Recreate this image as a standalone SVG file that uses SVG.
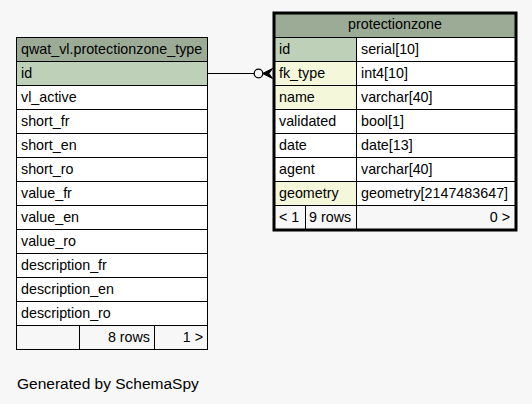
<svg xmlns="http://www.w3.org/2000/svg" width="532" height="404" viewBox="0 0 532 404">
<style>
text{font-family:"Liberation Sans",Arial,sans-serif;font-size:14.3px;fill:#000}
.c{fill:#fff;stroke:#000;stroke-width:1}
.h{fill:#9bab96;stroke:#000;stroke-width:1}
.pk{fill:#bed1b8;stroke:#000;stroke-width:1}
.fk{fill:#f4f7da;stroke:#000;stroke-width:1}
.ft{fill:#f7f7f7;stroke:#000;stroke-width:1}
.r{text-anchor:end}
.m{text-anchor:middle}
.g{font-size:15.5px}
</style>
<rect width="532" height="404" fill="#f7f7f7"/>
<g id="qwat_vl.protectionzone_type">
<rect class="h" x="16.5" y="37.5" width="191" height="24"/>
<text x="21" y="54">qwat_vl.protectionzone_type</text>
<rect class="pk" x="16.5" y="61.5" width="191" height="24"/>
<text x="21" y="78">id</text>
<rect class="c" x="16.5" y="85.5" width="191" height="24"/>
<text x="21" y="102">vl_active</text>
<rect class="c" x="16.5" y="109.5" width="191" height="24"/>
<text x="21" y="126">short_fr</text>
<rect class="c" x="16.5" y="133.5" width="191" height="24"/>
<text x="21" y="150">short_en</text>
<rect class="c" x="16.5" y="157.5" width="191" height="24"/>
<text x="21" y="174">short_ro</text>
<rect class="c" x="16.5" y="181.5" width="191" height="24"/>
<text x="21" y="198">value_fr</text>
<rect class="c" x="16.5" y="205.5" width="191" height="24"/>
<text x="21" y="222">value_en</text>
<rect class="c" x="16.5" y="229.5" width="191" height="24"/>
<text x="21" y="246">value_ro</text>
<rect class="c" x="16.5" y="253.5" width="191" height="24"/>
<text x="21" y="270">description_fr</text>
<rect class="c" x="16.5" y="277.5" width="191" height="24"/>
<text x="21" y="294">description_en</text>
<rect class="c" x="16.5" y="301.5" width="191" height="24"/>
<text x="21" y="318">description_ro</text>
<rect class="ft" x="16.5" y="325.5" width="63" height="24"/>
<rect class="ft" x="79.5" y="325.5" width="75" height="24"/>
<text class="r" x="150" y="342">8 rows</text>
<rect class="ft" x="154.5" y="325.5" width="53" height="24"/>
<text class="r" x="203" y="342">1 &gt;</text>
</g>
<g id="protectionzone">
<rect class="h" x="274.5" y="13.5" width="241" height="24"/>
<text class="m" x="395" y="29">protectionzone</text>
<rect class="pk" x="274.5" y="37.5" width="82" height="24"/>
<text x="279" y="54">id</text>
<rect class="c" x="356.5" y="37.5" width="159" height="24"/>
<text x="361" y="54">serial[10]</text>
<rect class="fk" x="274.5" y="61.5" width="82" height="24"/>
<text x="279" y="78">fk_type</text>
<rect class="c" x="356.5" y="61.5" width="159" height="24"/>
<text x="361" y="78">int4[10]</text>
<rect class="fk" x="274.5" y="85.5" width="82" height="24"/>
<text x="279" y="102">name</text>
<rect class="c" x="356.5" y="85.5" width="159" height="24"/>
<text x="361" y="102">varchar[40]</text>
<rect class="c" x="274.5" y="109.5" width="82" height="24"/>
<text x="279" y="126">validated</text>
<rect class="c" x="356.5" y="109.5" width="159" height="24"/>
<text x="361" y="126">bool[1]</text>
<rect class="c" x="274.5" y="133.5" width="82" height="24"/>
<text x="279" y="150">date</text>
<rect class="c" x="356.5" y="133.5" width="159" height="24"/>
<text x="361" y="150">date[13]</text>
<rect class="c" x="274.5" y="157.5" width="82" height="24"/>
<text x="279" y="174">agent</text>
<rect class="c" x="356.5" y="157.5" width="159" height="24"/>
<text x="361" y="174">varchar[40]</text>
<rect class="fk" x="274.5" y="181.5" width="82" height="24"/>
<text x="279" y="198">geometry</text>
<rect class="c" x="356.5" y="181.5" width="159" height="24"/>
<text x="361" y="198">geometry[2147483647]</text>
<rect class="ft" x="274.5" y="205.5" width="31" height="24"/>
<text x="279" y="222">&lt; 1</text>
<rect class="ft" x="305.5" y="205.5" width="51" height="24"/>
<text x="309" y="222">9 rows</text>
<rect class="ft" x="356.5" y="205.5" width="159" height="24"/>
<text class="r" x="510" y="222">0 &gt;</text>
<rect x="274" y="13" width="242" height="217" fill="none" stroke="#000" stroke-width="3"/>
</g>
<g id="connectors">
<line x1="208" y1="73.5" x2="254" y2="73.5" stroke="#000" stroke-width="1"/>
<circle cx="258.5" cy="73.5" r="4.3" fill="none" stroke="#000" stroke-width="1.2"/>
<path d="M262.5,73.5 L272.5,68.5 L269,73.5 L272.5,78.5 Z" fill="#000" stroke="#000" stroke-width="1"/>
</g>
<text class="g" x="17" y="389">Generated by SchemaSpy</text>
</svg>
